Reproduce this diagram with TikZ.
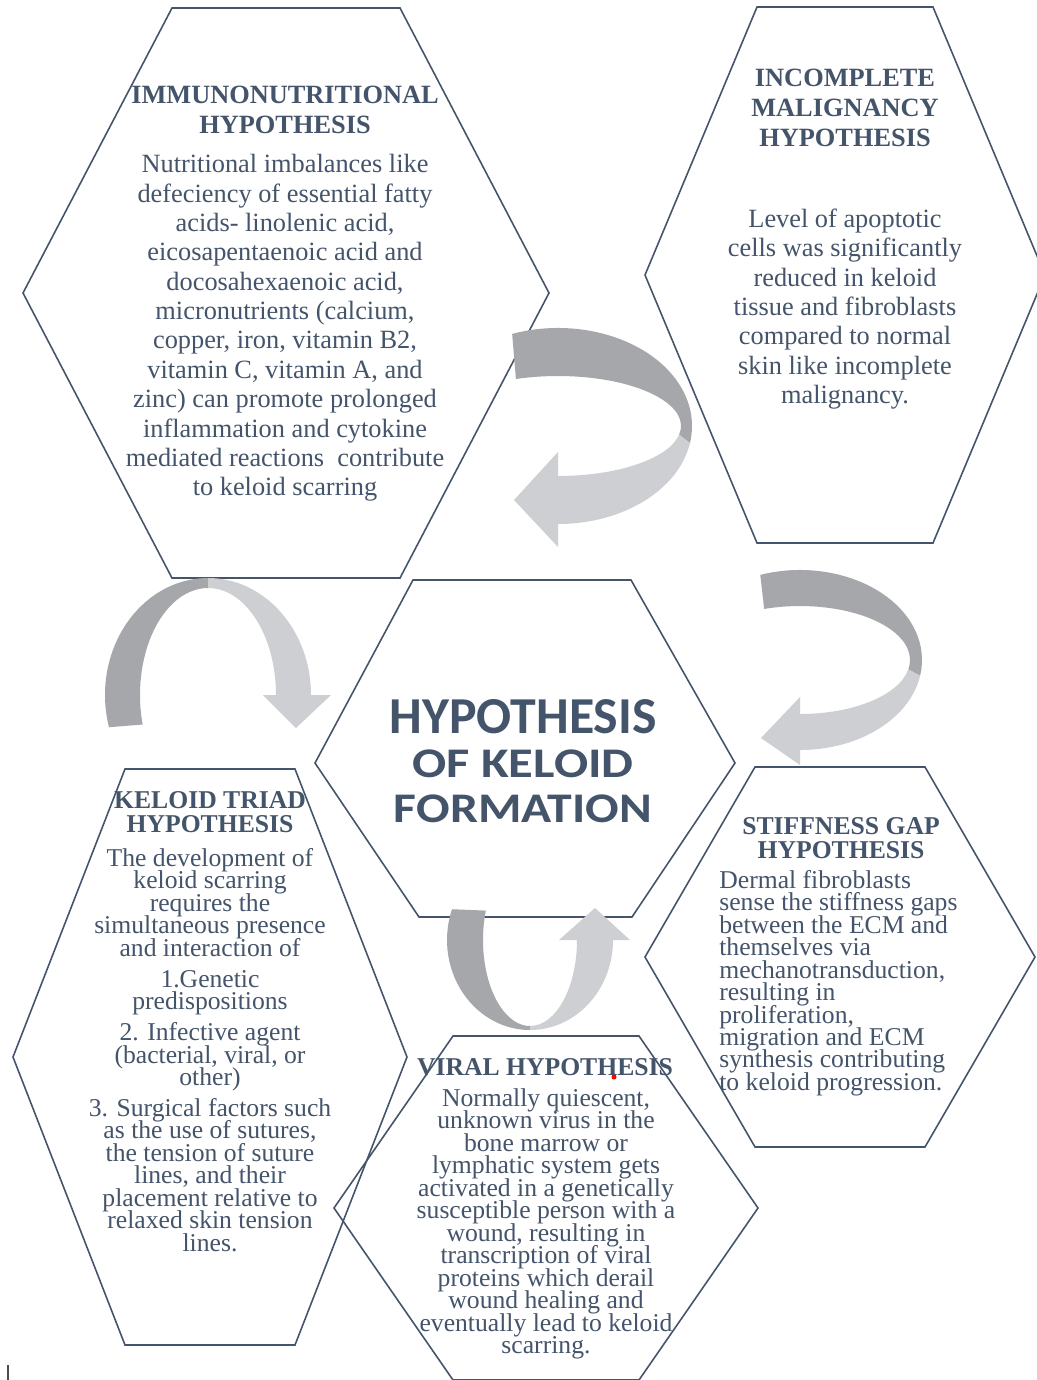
\documentclass[tikz,border=0pt]{standalone}
\usepackage{fontspec}
\usepackage{graphicx}
\setmainfont{Liberation Serif}
\newfontfamily\corefont{Carlito}
\usetikzlibrary{calc}
\definecolor{textblue}{HTML}{44546A}
\definecolor{arrowdark}{HTML}{A5A7AA}
\definecolor{arrowlight}{HTML}{CDCFD2}
\newcommand\tightlines{\setlength{\lineskiplimit}{-20pt}}
\tikzset{hexline/.style={draw=textblue, line width=0.9pt, line join=miter}}
\tikzset{headbig/.style={text=textblue, align=center, inner sep=0pt, font=\bfseries\fontsize{15}{17}\selectfont}}
\tikzset{bodybig/.style={text=textblue, align=center, inner sep=0pt, font=\fontsize{15}{16.7}\selectfont}}
\tikzset{headsmall/.style={text=textblue, align=center, inner sep=0pt, font=\bfseries\fontsize{14.6}{13.6}\selectfont\tightlines}}
\tikzset{bodysmall/.style={text=textblue, align=center, inner sep=0pt, font=\fontsize{14.6}{12.8}\selectfont\tightlines}}

\begin{document}
\begin{tikzpicture}[x=0.02cm, y=-0.02cm]
  \useasboundingbox (0,0) rectangle (1036,1380);
  \fill[white] (0,0) rectangle (1036,1380);

  % immunonutritional hexagon
  \coordinate (h1) at (286,293);
  \draw[hexline] ($(h1)+(-263,0)$) -- ($(h1)+(-114,-285)$) -- ($(h1)+(114,-285)$) -- ($(h1)+(263,0)$) -- ($(h1)+(114,285)$) -- ($(h1)+(-114,285)$) -- cycle;

  % incomplete malignancy hexagon
  \coordinate (h2) at (845,275);
  \draw[hexline] ($(h2)+(-200,0)$) -- ($(h2)+(-88,-268)$) -- ($(h2)+(88,-268)$) -- ($(h2)+(200,0)$) -- ($(h2)+(88,268)$) -- ($(h2)+(-88,268)$) -- cycle;

  % central hexagon
  \coordinate (h3) at (523,763);
  \draw[hexline] ($(h3)+(-208,0)$) -- ($(h3)+(-110,-183)$) -- ($(h3)+(108,-183)$) -- ($(h3)+(212,0)$) -- ($(h3)+(109,154)$) -- ($(h3)+(-104,154)$) -- cycle;

  % keloid triad hexagon
  \coordinate (h4) at (210,1057);
  \draw[hexline] ($(h4)+(-197,0)$) -- ($(h4)+(-85,-288)$) -- ($(h4)+(85,-288)$) -- ($(h4)+(197,0)$) -- ($(h4)+(85,288)$) -- ($(h4)+(-85,288)$) -- cycle;

  % stiffness gap hexagon
  \coordinate (h5) at (840,957);
  \draw[hexline] ($(h5)+(-195,0)$) -- ($(h5)+(-85,-190)$) -- ($(h5)+(85,-190)$) -- ($(h5)+(195,0)$) -- ($(h5)+(85,190)$) -- ($(h5)+(-85,190)$) -- cycle;

  % viral hexagon
  \coordinate (h6) at (546,1208);
  \draw[hexline] ($(h6)+(-212,0)$) -- ($(h6)+(-93,-172)$) -- ($(h6)+(93,-172)$) -- ($(h6)+(212,0)$) -- ($(h6)+(93,172)$) -- ($(h6)+(-93,172)$) -- cycle;

  % upper ribbon arrow
  \coordinate (a1) at (558,426);
  \fill[arrowdark] ($(a1)+(-110:134 and 98)$) arc[start angle=-110, end angle=10, x radius=134, y radius=98]
    -- ($(a1)+(10:123 and 50)$) arc[start angle=10, end angle=-110, x radius=123, y radius=50] -- cycle;
  \fill[arrowlight] ($(a1)+(10:134 and 98)$) arc[start angle=10, end angle=90, x radius=134, y radius=98]
    -- ($(a1)+(0,121)$) -- ($(a1)+(-44,74)$) -- ($(a1)+(0,26)$) -- ($(a1)+(0,50)$)
    arc[start angle=90, end angle=10, x radius=123, y radius=50] -- cycle;

  % right ribbon arrow
  \coordinate (a2) at (800,660);
  \fill[arrowdark] ($(a2)+(-109:122 and 90)$) arc[start angle=-109, end angle=10, x radius=122, y radius=90]
    -- ($(a2)+(10:110 and 54)$) arc[start angle=10, end angle=-109, x radius=110, y radius=54] -- cycle;
  \fill[arrowlight] ($(a2)+(10:122 and 90)$) arc[start angle=10, end angle=90, x radius=122, y radius=90]
    -- ($(a2)+(0,105)$) -- ($(a2)+(-39,78)$) -- ($(a2)+(0,37)$) -- ($(a2)+(0,54)$)
    arc[start angle=90, end angle=10, x radius=110, y radius=54] -- cycle;

  % left arch arrow
  \coordinate (a3) at (208,695);
  \fill[arrowdark] ($(a3)+(164:103 and 117)$) arc[start angle=164, end angle=270, x radius=103, y radius=117]
    -- ($(a3)+(270:68 and 107)$) arc[start angle=270, end angle=164, x radius=68, y radius=107] -- cycle;
  \fill[arrowlight] ($(a3)+(270:103 and 117)$) arc[start angle=270, end angle=360, x radius=103, y radius=117]
    -- ($(a3)+(123,0)$) -- ($(a3)+(88,33)$) -- ($(a3)+(55,0)$) -- ($(a3)+(68,0)$)
    arc[start angle=360, end angle=270, x radius=68, y radius=107] -- cycle;

  % lower u-turn arrow
  \coordinate (a4) at (530,940);
  \fill[arrowdark] ($(a4)+(200:83 and 90)$) arc[start angle=200, end angle=90, x radius=83, y radius=90]
    -- ($(a4)+(90:47 and 86)$) arc[start angle=90, end angle=200, x radius=47, y radius=86] -- cycle;
  \fill[arrowlight] ($(a4)+(90:83 and 90)$) arc[start angle=90, end angle=0, x radius=83, y radius=90]
    -- ($(a4)+(100,0)$) -- ($(a4)+(65,-32)$) -- ($(a4)+(29,0)$) -- ($(a4)+(47,0)$)
    arc[start angle=0, end angle=90, x radius=47, y radius=86] -- cycle;

  % texts
  \node[headbig] (immuno-head) at ($(h1)+(-1,-183)$) {IMMUNONUTRITIONAL\\HYPOTHESIS};
  \node[bodybig] (immuno-body) at ($(h1)+(-1,35)$) {Nutritional imbalances like\\
    defeciency of essential fatty\\
    acids- linolenic acid,\\
    eicosapentaenoic acid and\\
    docosahexaenoic acid,\\
    micronutrients (calcium,\\
    copper, iron, vitamin B2,\\
    vitamin C, vitamin A, and\\
    zinc) can promote prolonged\\
    inflammation and cytokine\\
    mediated reactions\ \ contribute\\
    to keloid scarring};

  \node[headbig] (malig-head) at ($(h2)+(0,-167)$) {INCOMPLETE\\MALIGNANCY\\HYPOTHESIS};
  \node[bodybig] (malig-body) at ($(h2)+(0,34)$) {Level of apoptotic\\
    cells was significantly\\
    reduced in keloid\\
    tissue and fibroblasts\\
    compared to normal\\
    skin like incomplete\\
    malignancy.};

  \node[text=textblue, align=center, inner sep=0pt, font=\corefont\bfseries\fontsize{24}{25.3}\selectfont] (core) at ($(h3)+(0,-2)$)
    {{\fontsize{29.5}{25.3}\selectfont HYPOTHESIS}\\\scalebox{1.2}[1]{OF KELOID}\\\scalebox{1.18}[1]{FORMATION}};

  \node[headsmall] (triad-head) at ($(h4)+(0,-245)$) {KELOID TRIAD\\HYPOTHESIS};
  \node[bodysmall] (triad-body) at ($(h4)+(0,-7)$) {The development of\\
    keloid scarring\\
    requires the\\
    simultaneous presence\\
    and interaction of\\[4.8pt]
    1.Genetic\\
    predispositions\\[4.8pt]
    2. Infective agent\\
    (bacterial, viral, or\\
    other)\\[4.8pt]
    3. Surgical factors such\\
    as the use of sutures,\\
    the tension of suture\\
    lines, and their\\
    placement relative to\\
    relaxed skin tension\\
    lines.};

  \node[headsmall] (stiff-head) at ($(h5)+(1,-119)$) {STIFFNESS GAP\\HYPOTHESIS};
  \node[bodysmall, align=left, anchor=west] (stiff-body) at ($(h5)+(-121,26)$) {Dermal fibroblasts\\
    sense the stiffness gaps\\
    between the ECM and\\
    themselves via\\
    mechanotransduction,\\
    resulting in\\
    proliferation,\\
    migration and ECM\\
    synthesis contributing\\
    to keloid progression.};

  \node[headsmall] (viral-head) at ($(h6)+(-1,-141)$) {VIRAL HYPOTHESIS};
  \node[bodysmall] (viral-body) at ($(h6)+(0,16)$) {Normally quiescent,\\
    unknown virus in the\\
    bone marrow or\\
    lymphatic system gets\\
    activated in a genetically\\
    susceptible person with a\\
    wound, resulting in\\
    transcription of viral\\
    proteins which derail\\
    wound healing and\\
    eventually lead to keloid\\
    scarring.};

  % stray marks
  \fill[red] (614,1077) circle[radius=2.5];
  \draw[line width=1.2pt, black!70] (8,1365) -- (8,1380);
\end{tikzpicture}
\end{document}
